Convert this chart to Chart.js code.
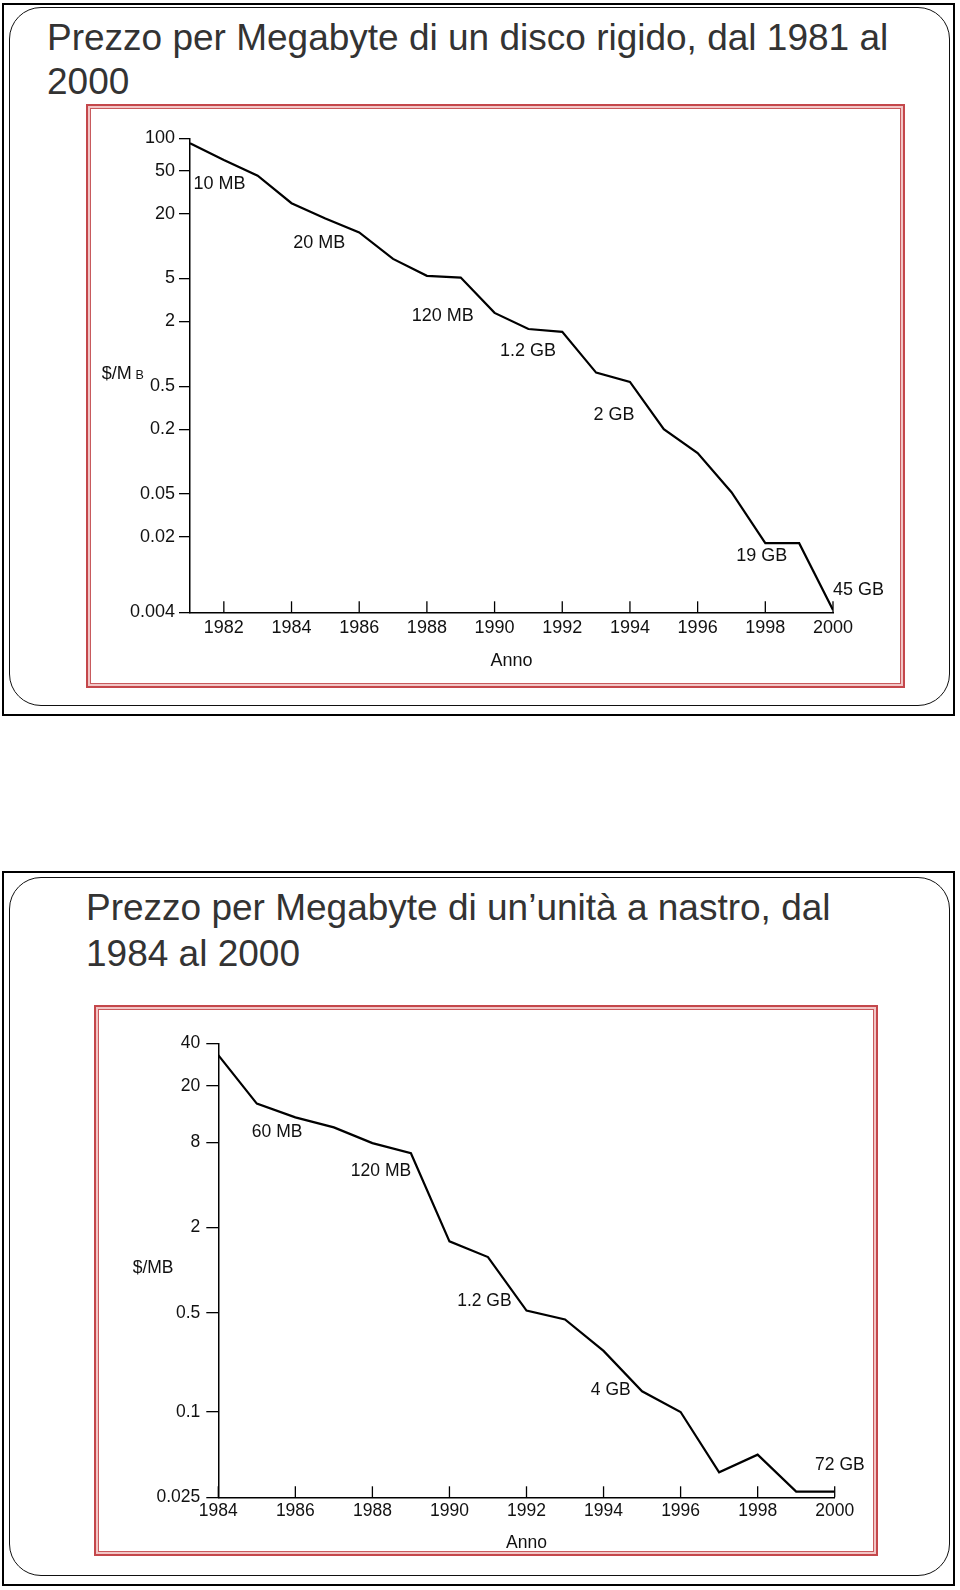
<!DOCTYPE html>
<html>
<head>
<meta charset="utf-8">
<script src="https://cdn.jsdelivr.net/npm/chart.js@4.4.1/dist/chart.umd.min.js"></script>
<style>
body { margin: 0; width: 960px; height: 1590px; background: #fff; position: relative; overflow: hidden;
       font-family: "Liberation Sans", Arial, sans-serif; }
.slide { position: absolute; left: 2px; width: 953px; height: 713px; border: 2px solid #000; box-sizing: border-box; }
.inner { position: absolute; left: 9px; width: 941px; height: 699px; border: 1.3px solid #111;
         border-radius: 32px; box-sizing: border-box; }
.title { position: absolute; font-size: 37px; color: #333; white-space: nowrap; }
.frame { position: absolute; border: 2px solid #c4474b; padding: 2px; background: #f2c6c6; box-sizing: border-box; }
.frame div { width: 100%; height: 100%; border: 1px solid #c85a5d; background: #fff; box-sizing: border-box; }
canvas { position: absolute; left: 0; }
</style>
</head>
<body>
<div class="slide" style="top:3px"></div>
<div class="inner" style="top:7px"></div>
<div class="title" style="left:47px; top:16px; line-height:44px">Prezzo per Megabyte di un disco rigido, dal 1981 al<br>2000</div>
<div class="frame" style="left:86px; top:104px; width:819px; height:584px"><div></div></div>
<canvas id="disk_chart" width="960" height="600" style="top:100px"></canvas>

<div class="slide" style="top:871px; height:715px"></div>
<div class="inner" style="top:877px"></div>
<div class="title" style="left:86px; top:885px; line-height:46px">Prezzo per Megabyte di un’unità a nastro, dal<br>1984 al 2000</div>
<div class="frame" style="left:94px; top:1005px; width:784px; height:551px"><div></div></div>
<canvas id="tape_chart" width="960" height="570" style="top:1000px"></canvas>

<script>
// disco rigido, $/MB per anno
var diskYears = [1981, 1982, 1983, 1984, 1985, 1986, 1987, 1988, 1989, 1990,
                 1991, 1992, 1993, 1994, 1995, 1996, 1997, 1998, 1999, 2000];
var diskPrices = [90, 63, 45, 25, 18, 13.4, 7.6, 5.3, 5.1, 2.4,
                  1.7, 1.6, 0.67, 0.55, 0.2, 0.12, 0.052, 0.0175, 0.0175, 0.0042];
var diskYTicks = [100, 50, 20, 5, 2, 0.5, 0.2, 0.05, 0.02, 0.004];
var diskXTicks = [1982, 1984, 1986, 1988, 1990, 1992, 1994, 1996, 1998, 2000];
var diskLabels = ["10 MB", "20 MB", "120 MB", "1.2 GB", "2 GB", "19 GB", "45 GB"];
var diskLabelYears = [1981.1, 1984.05, 1987.55, 1990.16, 1992.92, 1997.14, 2000.0];
var diskLabelPrices = [37.5, 10.7, 2.23, 1.06, 0.268, 0.0132, 0.00645];

// unità a nastro, $/MB per anno
var tapeYears = [1984, 1985, 1986, 1987, 1988, 1989, 1990, 1991, 1992,
                 1993, 1994, 1995, 1996, 1997, 1998, 1999, 2000];
var tapePrices = [33, 15, 12, 10.2, 7.9, 6.7, 1.6, 1.24, 0.52,
                  0.45, 0.27, 0.14, 0.1, 0.0375, 0.05, 0.0274, 0.0274];
var tapeYTicks = [40, 20, 8, 2, 0.5, 0.1, 0.025];
var tapeXTicks = [1984, 1986, 1988, 1990, 1992, 1994, 1996, 1998, 2000];
var tapeLabels = ["60 MB", "120 MB", "1.2 GB", "4 GB", "72 GB"];
var tapeLabelYears = [1984.87, 1987.44, 1990.2, 1993.67, 1999.49];
var tapeLabelPrices = [9.5, 4.99, 0.605, 0.143, 0.0424];

var FONT = '"Liberation Sans", Arial, sans-serif';
Chart.defaults.font.family = FONT;
Chart.defaults.color = "#111";

function toPoints(xs, ys) {
    var pts = [];
    for (var i = 0; i < xs.length; i++) {
        pts.push({x: xs[i], y: ys[i]});
    }
    return pts;
}

function fixedTicks(values) {
    return function(scale) {
        scale.ticks = values.map(function(v) { return {value: v}; });
    };
}

// x ticks point up, curve labels, "$/MB"
function extrasPlugin(cfg) {
    return {
        id: "extras",
        afterDraw: function(chart) {
            var ctx = chart.ctx;
            var xs = chart.scales.x, ys = chart.scales.y, area = chart.chartArea;
            ctx.save();
            ctx.strokeStyle = "#000";
            ctx.lineWidth = 1.3;
            xs.ticks.forEach(function(t) {
                var px = xs.getPixelForValue(t.value);
                ctx.beginPath();
                ctx.moveTo(px, area.bottom);
                ctx.lineTo(px, area.bottom - 11);
                ctx.stroke();
            });
            ctx.fillStyle = "#111";
            ctx.font = cfg.fontSize + "px " + FONT;
            ctx.textAlign = "left";
            ctx.textBaseline = "middle";
            for (var i = 0; i < cfg.labels.length; i++) {
                ctx.fillText(cfg.labels[i], xs.getPixelForValue(cfg.labelX[i]), ys.getPixelForValue(cfg.labelY[i]));
            }
            cfg.drawYTitle(ctx, area);
            ctx.restore();
        }
    };
}

function drawPriceChart(canvas_id, cfg) {
    var ctx = document.getElementById(canvas_id).getContext("2d");
    return new Chart(ctx, {
        type: "line",
        data: {
            datasets: [{
                data: toPoints(cfg.years, cfg.prices),
                borderColor: "#000",
                borderWidth: 2.2,
                pointRadius: 0,
                tension: 0,
                fill: false
            }]
        },
        options: {
            responsive: false,
            animation: false,
            devicePixelRatio: 1,
            layout: {padding: cfg.padding},
            plugins: {legend: {display: false}, tooltip: {enabled: false}},
            scales: {
                x: {
                    type: "linear",
                    min: cfg.xMin,
                    max: cfg.xMax,
                    afterBuildTicks: fixedTicks(cfg.xTicks),
                    afterFit: function(scale) { scale.height = cfg.xHeight; },
                    grid: {display: false, drawTicks: false, tickLength: 0},
                    border: {display: true, color: "#000", width: 1.5},
                    ticks: {
                        autoSkip: false, maxRotation: 0, padding: cfg.xPad,
                        font: {size: cfg.fontSize},
                        callback: function(v) { return String(v); }
                    },
                    title: {display: true, text: "Anno", padding: 0, font: {size: cfg.fontSize}}
                },
                y: {
                    type: "logarithmic",
                    min: cfg.yMin,
                    max: cfg.yMax,
                    afterBuildTicks: fixedTicks(cfg.yTicks),
                    afterFit: function(scale) { scale.width = 80; },
                    grid: {drawOnChartArea: false, drawTicks: true, tickLength: cfg.yTickLen, color: "#000", lineWidth: 1.3},
                    border: {display: true, color: "#000", width: 1.5},
                    ticks: {
                        padding: cfg.yPad,
                        font: {size: cfg.fontSize},
                        callback: function(v) { return String(v); }
                    }
                }
            }
        },
        plugins: [extrasPlugin(cfg)]
    });
}

drawPriceChart("disk_chart", {
    years: diskYears, prices: diskPrices,
    xTicks: diskXTicks, yTicks: diskYTicks,
    xMin: 1981, xMax: 2000, yMin: 0.004, yMax: 100,
    labels: diskLabels, labelX: diskLabelYears, labelY: diskLabelPrices,
    fontSize: 18,
    padding: {left: 110, right: 127, top: 38.3, bottom: 27.7},
    xHeight: 60, xPad: 5, yTickLen: 11, yPad: 4,
    drawYTitle: function(ctx, area) {
        ctx.textBaseline = "alphabetic";
        ctx.font = "18px " + FONT;
        ctx.fillText("$/M", area.left - 88.3, area.top + 241);
        ctx.font = "12.5px " + FONT;
        ctx.fillText("B", area.left - 54.5, area.top + 241);
    }
});

drawPriceChart("tape_chart", {
    years: tapeYears, prices: tapePrices,
    xTicks: tapeXTicks, yTicks: tapeYTicks,
    xMin: 1984, xMax: 2000, yMin: 0.025, yMax: 40,
    labels: tapeLabels, labelX: tapeLabelYears, labelY: tapeLabelPrices,
    fontSize: 17.5,
    padding: {left: 138.3, right: 125.3, top: 43.3, bottom: 16.7},
    xHeight: 56, xPad: 3, yTickLen: 12, yPad: 6,
    drawYTitle: function(ctx, area) {
        ctx.textBaseline = "middle";
        ctx.fillText("$/MB", area.left - 85.6, area.top + 224.7);
    }
});
</script>
</body>
</html>
